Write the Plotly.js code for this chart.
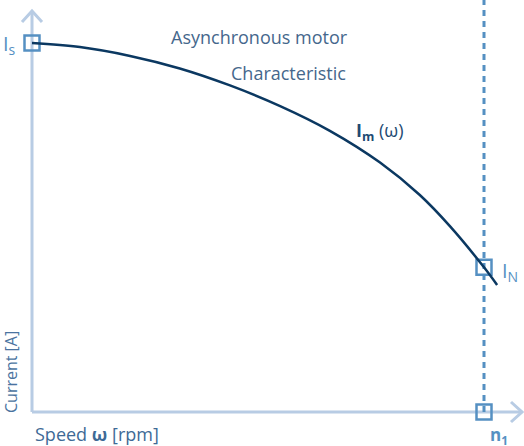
<!DOCTYPE html>
<html>
<head>
<meta charset="utf-8">
<script src="https://cdn.plot.ly/plotly-3.0.1.min.js"></script>
<style>
html,body{margin:0;padding:0;background:#fff;}
#chart{width:524px;height:446px;}
</style>
</head>
<body>
<div id="chart"></div>
<script>
// Speed as fraction of synchronous speed n1, current as fraction of starting current Is
const speed   = [0, 0.106, 0.217, 0.327, 0.438, 0.549, 0.659, 0.770, 0.858, 0.925, 1.0, 1.029];
const current = [1.0, 0.989, 0.965, 0.931, 0.885, 0.829, 0.762, 0.676, 0.588, 0.503, 0.392, 0.344];
const n1 = 1.0;        // synchronous speed
const Is = current[0]; // starting current
const IN = 0.392;      // nominal current at n1
const pointLabels = ["I<sub>s</sub>", "I<sub>N</sub>", "<b>n<sub>1</sub></b>"];

const W = 524, H = 446;
const P = (px, py) => [px / W, 1 - py / H];

const axisCol = '#b8cce4';
const accent = '#5590c2';
const navy = '#0b3861';

const traces = [
  {
    x: [speed[0], n1, n1],
    y: [Is, IN, 0],
    mode: 'markers',
    type: 'scatter',
    hoverinfo: 'skip',
    marker: {symbol: 'square-open', size: 15, color: accent, line: {width: 2.5, color: accent}}
  },
  {
    x: speed,
    y: current,
    mode: 'lines',
    type: 'scatter',
    line: {color: navy, width: 2.5, shape: 'spline', smoothing: 1},
    hoverinfo: 'skip'
  }
];

function seg(a, b, color, width) {
  return {type: 'line', xref: 'paper', yref: 'paper', x0: a[0], y0: a[1], x1: b[0], y1: b[1],
          line: {color: color, width: width}, layer: 'below'};
}
function chevron(a, b, c, color, width) {
  return {type: 'path', xref: 'paper', yref: 'paper',
    path: `M ${a[0]} ${a[1]} L ${b[0]} ${b[1]} L ${c[0]} ${c[1]}`,
    line: {color: color, width: width}, layer: 'below'};
}

const shapes = [
  seg(P(32, 412), P(32, 11), axisCol, 3),
  chevron(P(22, 22), P(32, 11), P(42, 22), axisCol, 3),
  seg(P(32, 412), P(521, 412), axisCol, 3),
  chevron(P(511, 402), P(522, 412), P(511, 422), axisCol, 3),
  {type: 'line', xref: 'x', yref: 'paper', x0: n1, x1: n1, y0: P(0, 412)[1], y1: 1,
   line: {color: accent, width: 3, dash: '6px,5px'}, layer: 'below'}
];

const fnt = (size, color) => ({family: 'Open Sans, sans-serif', size: size, color: color});
const ann = (px, py, text, size, color, xanchor, extra) => Object.assign({
  xref: 'paper', yref: 'paper', x: P(px, py)[0], y: P(px, py)[1], text: text,
  showarrow: false, xanchor: xanchor || 'center', yanchor: 'middle', font: fnt(size, color)
}, extra || {});

const annotations = [
  ann(259, 37, 'Asynchronous motor', 18, '#45678c'),
  ann(348, 73, 'Characteristic', 18, '#45678c', 'right'),
  ann(354, 131, '<b>I<sub>m</sub></b> (ω)', 18, '#1e4a73', 'left'),
  ann(1, 45, pointLabels[0], 20, accent, 'left'),
  ann(500, 271, pointLabels[1], 20, accent, 'left'),
  ann(499, 435, pointLabels[2], 17, accent, 'center'),
  ann(33, 434, 'Speed <b>ω</b> [rpm]', 18, '#3e6a96', 'left'),
  ann(11, 372, 'Current [A]', 16, '#4a73a0', 'center', {textangle: -90})
];

const layout = {
  width: W, height: H,
  margin: {l: 0, r: 0, t: 0, b: 0, pad: 0},
  paper_bgcolor: '#fff', plot_bgcolor: '#fff',
  showlegend: false,
  xaxis: {range: [-32 / 452, 492 / 452], visible: false, fixedrange: true},
  yaxis: {range: [-34 / 369, 412 / 369], visible: false, fixedrange: true},
  shapes: shapes,
  annotations: annotations
};

Plotly.newPlot('chart', traces, layout, {staticPlot: true, displayModeBar: false});
</script>
</body>
</html>
